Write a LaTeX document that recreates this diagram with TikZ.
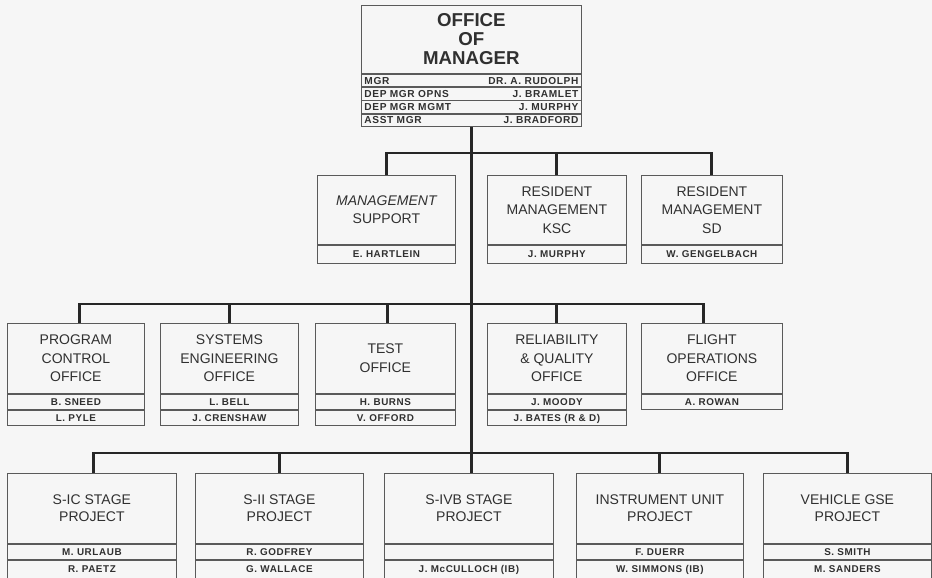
\documentclass[tikz,border=0pt]{standalone}
\usepackage{fontspec}
\setmainfont{Liberation Sans}
\newfontfamily\namefont[LetterSpace=6]{Liberation Sans}
\definecolor{bgc}{HTML}{F6F6F6}
\definecolor{boxc}{HTML}{5A5A5A}
\definecolor{txtc}{HTML}{303030}
\definecolor{connc}{HTML}{262626}
\tikzset{
  tbox/.style 2 args={draw=boxc, line width=0.6pt, inner sep=0pt, anchor=north west,
    minimum width=#1*0.75pt, minimum height=#2*0.75pt, align=center, text=txtc,
    font=\fontsize{10.5}{13.9}\selectfont},
  lowtitle/.style={font=\fontsize{10.5}{12.4}\selectfont},
  nrow/.style 2 args={draw=boxc, line width=0.6pt, inner sep=0pt, anchor=north,
    minimum width=#1*0.75pt, minimum height=#2*0.75pt, text=txtc,
    font=\namefont\bfseries\fontsize{7.4}{8}\selectfont, text height=5.3pt, text depth=0pt},
  ntxt/.style={inner sep=0pt, text=txtc, font=\namefont\bfseries\fontsize{7.6}{8}\selectfont,
    text height=5.4pt, text depth=0pt},
  conn/.style={draw=connc, line width=2.2pt}
}
\begin{document}
\begin{tikzpicture}[x=0.75pt,y=-0.75pt]
\fill[bgc] (0,0) rectangle (932,578);
\useasboundingbox (0,0) rectangle (932,578);

% ---- Office of Manager ----
\node[tbox={220}{68}, font=\fontsize{14}{14.25}\selectfont\bfseries] (mgr) at (361,5) {OFFICE\\OF\\MANAGER};
\node[nrow={220}{12.5}] (m1) at (mgr.south) {};
\node[nrow={220}{12.5}] (m2) at (m1.south) {};
\node[nrow={220}{12.5}] (m3) at (m2.south) {};
\node[nrow={220}{12.5}] (m4) at (m3.south) {};
\node[ntxt, anchor=west] (m1l) at ([xshift=2.4pt]m1.west) {MGR};
\node[ntxt, anchor=east] (m1r) at ([xshift=-2.4pt]m1.east) {DR. A. RUDOLPH};
\node[ntxt, anchor=west] (m2l) at ([xshift=2.4pt]m2.west) {DEP MGR OPNS};
\node[ntxt, anchor=east] (m2r) at ([xshift=-2.4pt]m2.east) {J. BRAMLET};
\node[ntxt, anchor=west] (m3l) at ([xshift=2.4pt]m3.west) {DEP MGR MGMT};
\node[ntxt, anchor=east] (m3r) at ([xshift=-2.4pt]m3.east) {J. MURPHY};
\node[ntxt, anchor=west] (m4l) at ([xshift=2.4pt]m4.west) {ASST MGR};
\node[ntxt, anchor=east] (m4r) at ([xshift=-2.4pt]m4.east) {J. BRADFORD};

% ---- Row 2 ----
\node[tbox={138}{69}] (ms) at (317,175) {{\itshape MANAGEMENT}\\SUPPORT};
\node[nrow={138}{18}] (msA) at (ms.south) {E. HARTLEIN};
\node[tbox={139}{69}] (ksc) at (487,175) {RESIDENT\\MANAGEMENT\\KSC};
\node[nrow={139}{18}] (kscA) at (ksc.south) {J. MURPHY};
\node[tbox={141}{69}] (sd) at (641,175) {RESIDENT\\MANAGEMENT\\SD};
\node[nrow={141}{18}] (sdA) at (sd.south) {W. GENGELBACH};

% ---- Row 3 ----
\node[tbox={137}{70}] (pc) at (7,323) {PROGRAM\\CONTROL\\OFFICE};
\node[nrow={137}{15}] (pcA) at (pc.south) {B. SNEED};
\node[nrow={137}{15}] (pcB) at (pcA.south) {L. PYLE};
\node[tbox={138}{70}] (se) at (160,323) {SYSTEMS\\ENGINEERING\\OFFICE};
\node[nrow={138}{15}] (seA) at (se.south) {L. BELL};
\node[nrow={138}{15}] (seB) at (seA.south) {J. CRENSHAW};
\node[tbox={140}{70}] (to) at (315,323) {TEST\\OFFICE};
\node[nrow={140}{15}] (toA) at (to.south) {H. BURNS};
\node[nrow={140}{15}] (toB) at (toA.south) {V. OFFORD};
\node[tbox={139}{70}] (rq) at (487,323) {RELIABILITY\\\& QUALITY\\OFFICE};
\node[nrow={139}{15}] (rqA) at (rq.south) {J. MOODY};
\node[nrow={139}{15}] (rqB) at (rqA.south) {J. BATES (R \& D)};
\node[tbox={141}{70}] (fo) at (641,323) {FLIGHT\\OPERATIONS\\OFFICE};
\node[nrow={141}{15}] (foA) at (fo.south) {A. ROWAN};

% ---- Row 4 ----
\node[tbox={169}{70}, lowtitle] (sic) at (7,473) {S-IC STAGE\\PROJECT};
\node[nrow={169}{15}] (sicA) at (sic.south) {M. URLAUB};
\node[nrow={169}{18.5}] (sicB) at (sicA.south) {R. PAETZ};
\node[tbox={168}{70}, lowtitle] (sii) at (195,473) {S-II STAGE\\PROJECT};
\node[nrow={168}{15}] (siiA) at (sii.south) {R. GODFREY};
\node[nrow={168}{18.5}] (siiB) at (siiA.south) {G. WALLACE};
\node[tbox={169}{70}, lowtitle] (sivb) at (384,473) {S-IVB STAGE\\PROJECT};
\node[nrow={169}{15}] (sivbA) at (sivb.south) {};
\node[nrow={169}{18.5}] (sivbB) at (sivbA.south) {J. McCULLOCH (IB)};
\node[tbox={167}{70}, lowtitle] (iu) at (576,473) {INSTRUMENT UNIT\\PROJECT};
\node[nrow={167}{15}] (iuA) at (iu.south) {F. DUERR};
\node[nrow={167}{18.5}] (iuB) at (iuA.south) {W. SIMMONS (IB)};
\node[tbox={168}{70}, lowtitle] (gse) at (763,473) {VEHICLE GSE\\PROJECT};
\node[nrow={168}{15}] (gseA) at (gse.south) {S. SMITH};
\node[nrow={168}{18.5}] (gseB) at (gseA.south) {M. SANDERS};

% ---- Connectors ----
\coordinate (b2) at (471,153);
\coordinate (b3) at (471,304);
\coordinate (b4) at (471,453);
\draw[conn] (m4.south) -- (m4.south |- sivb.north);
\draw[conn] (ms.north) |- (b2) -| (sd.north);
\draw[conn] (ksc.north) -- (ksc.north |- b2);
\draw[conn] ([xshift=2.6pt]pc.north) |- (b3) -| ([xshift=-6.4pt]fo.north);
\draw[conn] (se.north) -- (se.north |- b3);
\draw[conn] ([xshift=1.5pt]to.north) -- ([xshift=1.5pt]to.north |- b3);
\draw[conn] (rq.north) -- (rq.north |- b3);
\draw[conn] ([xshift=1pt]sic.north) |- (b4) -| (gse.north);
\draw[conn] (sii.north) -- (sii.north |- b4);
\draw[conn] (iu.north) -- (iu.north |- b4);
\end{tikzpicture}
\end{document}
